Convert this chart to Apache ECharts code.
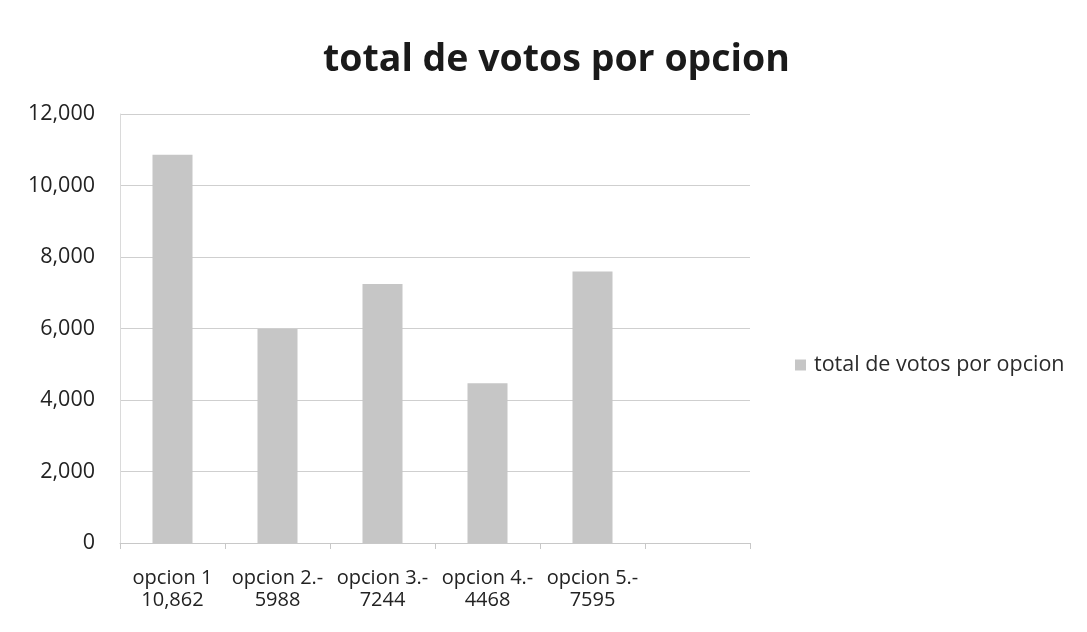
<!DOCTYPE html>
<html>
<head>
<meta charset="utf-8">
<script src="https://cdn.jsdelivr.net/npm/echarts@6/dist/echarts.min.js"></script>
<style>
html,body{margin:0;padding:0;background:#fff;}
#chart{width:1087px;height:632px;}
</style>
</head>
<body>
<div id="chart"></div>
<script>
const titleText = 'total de votos por opcion';
const seriesName = 'total de votos por opcion';
const categories = ['opcion 1\n10,862', 'opcion 2.-\n5988', 'opcion 3.-\n7244', 'opcion 4.-\n4468', 'opcion 5.-\n7595', ''];
const votes = [10862, 5988, 7244, 4468, 7595, null];
const yTicks = { min: 0, max: 12000, interval: 2000 };

const chart = echarts.init(document.getElementById('chart'));
const font = '"Open Sans", Lato, sans-serif';
chart.setOption({
  backgroundColor: '#ffffff',
  animation: false,
  title: {
    text: titleText,
    left: 318,
    top: 36,
    textStyle: { fontFamily: font, fontSize: 37.5, fontWeight: 'bold', color: '#1a1a1a' }
  },
  legend: {
    left: 790,
    top: 349,
    icon: 'rect',
    itemWidth: 11,
    itemHeight: 11,
    itemGap: 4,
    textStyle: { fontFamily: font, fontSize: 21.5, color: '#2a2a2a', padding: [0, 0, 0, 3] },
    data: [seriesName]
  },
  grid: { left: 120, right: 337, top: 114, bottom: 89 },
  xAxis: {
    type: 'category',
    data: categories,
    boundaryGap: true,
    axisLine: { show: true, lineStyle: { color: '#c8c8c8', width: 1 } },
    axisTick: { show: true, alignWithLabel: false, length: 6, lineStyle: { color: '#c8c8c8' } },
    axisLabel: { interval: 0, margin: 24, fontFamily: font, fontSize: 20, color: '#222', lineHeight: 22 },
    splitLine: { show: false }
  },
  yAxis: {
    type: 'value',
    min: yTicks.min,
    max: yTicks.max,
    interval: yTicks.interval,
    axisLine: { show: true, lineStyle: { color: '#dadada', width: 1 } },
    axisTick: { show: false },
    axisLabel: {
      margin: 25, fontFamily: font, fontSize: 21.5, color: '#222',
      formatter: v => v.toLocaleString('en-US')
    },
    splitLine: { show: true, lineStyle: { color: '#cfcfcf', width: 1 } }
  },
  series: [{
    name: seriesName,
    type: 'bar',
    data: votes,
    barWidth: 40,
    itemStyle: { color: '#c6c6c6' }
  }]
});
</script>
</body>
</html>
